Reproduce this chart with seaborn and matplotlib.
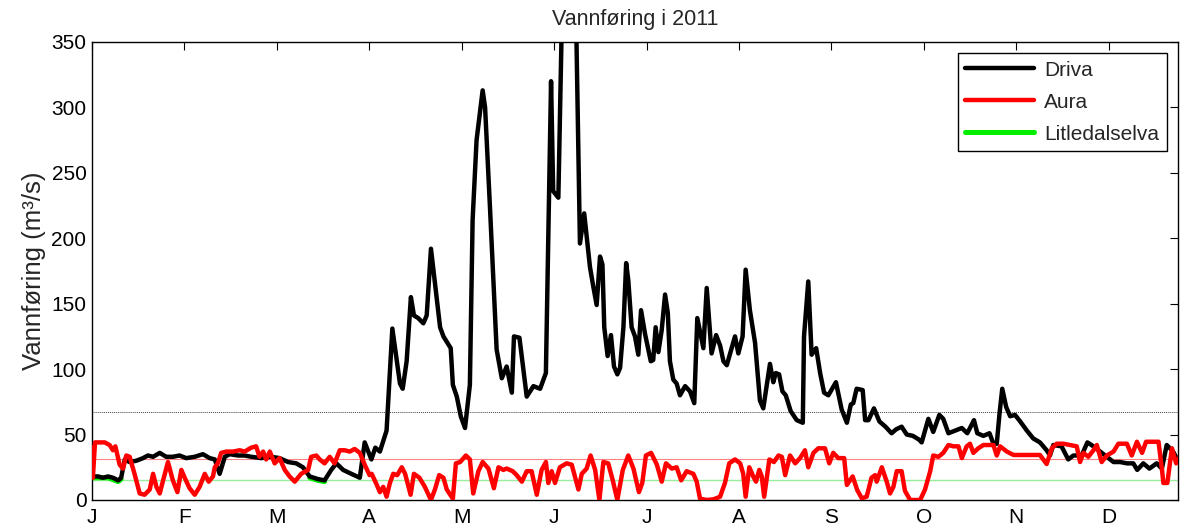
import pandas as pd
import matplotlib
matplotlib.use("Agg")
import matplotlib.pyplot as plt
import seaborn as sns

# daily flow 2011 (day of year from 1 Jan, m3/s)
driva_day = [0, 2.0, 3.6, 5.3, 6.9, 8.6, 9.6, 10.8, 12.4, 14.6, 16.8, 18.4, 20.1, 22.3, 24.4,
             26.6, 28.8, 31.0, 33.8, 36.5, 38.7, 40.4, 42.0, 43.7, 45.3, 48.0, 50.2, 52.4,
             55.7, 59.0, 61.7, 64.5, 67.2, 69.4, 71.6, 74.3, 76.5, 78.7, 80.4, 82.6, 85.3,
             88.1, 89.7, 91.9, 93.2, 94.7, 96.9, 98.8, 101.3, 102.2, 103.5, 104.9, 105.9,
             107.3, 109.0, 110.1, 111.5, 114.5, 115.6, 118.0, 118.7, 120.0, 121.3, 122.7,
             124.3, 125.2, 126.5, 128.5, 129.3, 130.9, 133.1, 134.8, 136.4, 138.1, 138.8,
             140.6, 143.0, 145.2, 147.4, 149.3, 151.0, 151.7, 153.4, 155.0, 157.0, 159.0,
             160.5, 161.9, 163.8, 164.9, 166.0, 167.1, 167.9, 168.5, 169.6, 170.7, 171.7,
             172.8, 173.7, 174.8, 175.7, 176.4, 177.5, 178.6, 179.7, 180.6, 181.9, 183.8,
             184.6, 185.4, 186.3, 187.4, 188.5, 189.4, 190.1, 191.2, 192.3, 193.4, 195.1,
             196.7, 198.1, 199.1, 201.1, 202.2, 203.8, 205.3, 206.6, 207.7, 208.8, 211.5,
             212.6, 214.0, 215.0, 216.4, 218.1, 219.7, 220.8, 223.0, 224.1, 224.9, 226.0,
             227.1, 228.2, 229.8, 231.8, 233.8, 234.2, 235.6, 236.7, 238.2, 239.5, 240.8,
             242.2, 244.7, 246.6, 248.3, 249.6, 250.4, 251.5, 253.5, 254.3, 255.4, 257.2,
             259.0, 261.0, 263.0, 264.5, 266.3, 268.0, 270.0, 272.1, 272.9, 275.1, 276.7,
             278.7, 280.0, 281.7, 283.9, 286.1, 287.9, 290.1, 291.2, 293.2, 295.2, 296.5,
             297.6, 298.5, 299.4, 300.7, 302.0, 303.6, 305.3, 307.5, 309.6, 311.8, 314.0,
             315.1, 316.2, 318.9, 321.1, 322.8, 325.5, 327.4, 329.4, 331.6, 333.8, 336.0,
             338.2, 340.4, 342.5, 343.8, 345.8, 347.8, 350.2, 351.9, 353.5, 355.6, 357.2]
driva_flow = [18, 18, 17, 18, 17, 15, 17, 31, 29, 30, 32, 34, 33, 36, 33,
              33, 34, 32, 33, 35, 32, 31, 20, 33, 35, 34, 34, 33,
              32, 33, 32, 29, 28, 25, 18, 16, 15, 23, 28, 23, 20,
              17, 44, 31, 40, 37, 53, 131, 89, 85, 106, 155, 141,
              139, 135, 141, 192, 132, 125, 116, 88, 79, 64, 55,
              88, 214, 275, 313, 300, 224, 115, 93, 102, 82, 125,
              124, 79, 87, 85, 97, 320, 236, 231, 420, 470, 400,
              196, 219, 178, 163, 149, 186, 180, 132, 110, 126, 102,
              96, 101, 132, 181, 168, 132, 125, 111, 145, 127, 106,
              107, 132, 113, 130, 157, 143, 106, 92, 89, 80, 87,
              83, 74, 139, 116, 162, 112, 126, 118, 106, 103, 125,
              112, 125, 176, 145, 120, 76, 70, 104, 90, 97, 96,
              83, 80, 68, 61, 59, 125, 167, 111, 116, 97, 82,
              80, 90, 69, 59, 73, 74, 85, 84, 61, 61, 70,
              60, 56, 51, 54, 56, 50, 49, 46, 44, 62, 52,
              65, 62, 51, 53, 55, 51, 61, 51, 49, 51, 43,
              43, 66, 85, 71, 64, 65, 60, 53, 47, 44, 38,
              34, 42, 41, 31, 34, 34, 44, 41, 37, 33, 29,
              29, 28, 28, 23, 28, 24, 28, 24, 42, 37, 30]

aura_day = [0, 0.3, 1.0, 2.0, 4.2, 5.8, 6.9, 7.7, 9.1, 10.2, 11.3, 12.4, 14.0, 15.7, 17.3,
            19.0, 20.1, 21.2, 22.3, 23.4, 25.0, 26.6, 28.1, 29.4, 30.5, 32.1, 33.8, 35.4,
            37.1, 38.4, 39.8, 40.4, 41.4, 42.5, 44.2, 46.4, 48.6, 50.2, 52.4, 54.0, 55.1,
            56.3, 57.3, 58.5, 60.1, 61.7, 63.4, 65.0, 66.7, 68.8, 71.1, 72.1, 73.8, 74.9,
            76.5, 78.2, 79.8, 81.5, 83.1, 84.8, 86.4, 88.1, 89.7, 91.3, 92.0, 93.6, 94.7,
            95.8, 96.9, 98.0, 99.1, 100.4, 101.9, 103.0, 104.8, 105.9, 107.7, 109.5, 111.5,
            112.8, 114.2, 115.6, 116.7, 118.7, 119.7, 121.1, 123.0, 124.3, 125.4, 127.1,
            128.5, 130.4, 132.2, 133.7, 135.3, 136.4, 138.4, 139.7, 141.4, 143.0, 144.6,
            146.3, 147.9, 149.3, 150.1, 151.2, 152.3, 153.9, 156.1, 157.8, 160.0, 161.1,
            162.7, 164.0, 165.5, 166.9, 168.2, 169.8, 171.3, 172.8, 174.6, 176.4, 178.1,
            179.9, 181.0, 182.2, 183.9, 185.8, 187.4, 188.8, 190.7, 192.3, 193.8, 195.6,
            197.8, 198.9, 200.0, 202.2, 204.4, 206.6, 208.2, 209.6, 211.5, 213.2, 214.2,
            215.0, 216.2, 217.5, 218.4, 219.5, 220.3, 221.1, 222.8, 224.3, 225.8, 226.9,
            228.0, 229.6, 231.3, 232.9, 234.5, 235.6, 237.3, 238.9, 241.1, 242.5, 243.8,
            245.5, 247.4, 248.3, 250.2, 251.7, 253.2, 254.8, 256.4, 257.6, 258.1, 259.8,
            261.4, 262.5, 263.6, 264.7, 266.3, 267.4, 269.1, 272.4, 274.0, 275.7, 276.7,
            278.4, 280.0, 281.7, 283.3, 285.0, 286.1, 287.7, 288.8, 289.9, 291.5, 293.2,
            296.5, 297.6, 298.7, 300.9, 303.1, 311.8, 312.9, 314.0, 315.7, 317.3, 319.5,
            323.9, 325.0, 326.1, 327.7, 329.4, 330.5, 332.1, 333.8, 336.0, 337.6, 340.4,
            342.0, 343.7, 345.4, 346.7, 350.8, 351.9, 352.4, 353.7, 355.2, 356.6, 357.9]
aura_flow = [40, 17, 44, 44, 44, 42, 38, 41, 27, 24, 34, 33, 20, 5, 4,
             8, 20, 10, 5, 15, 29, 15, 6, 23, 17, 9, 4, 10,
             20, 14, 18, 25, 28, 36, 37, 37, 38, 37, 40, 41, 33,
             37, 31, 37, 28, 32, 23, 18, 14, 20, 23, 33, 34, 31,
             28, 33, 28, 38, 38, 37, 39, 36, 27, 19, 20, 12, 6,
             10, 2.5, 13, 20, 19, 25, 20, 4, 20, 17, 10, 0,
             8, 19, 17, 8, 1, 28, 29, 34, 31, 5, 22,
             29, 24, 9, 25, 23, 24, 22, 19, 14, 22, 22,
             4, 23, 29, 13, 22, 13, 25, 28, 27, 8, 20,
             24, 34, 23, 0, 29, 28, 15, 0, 23, 34, 24,
             6, 13, 34, 36, 27, 14, 28, 24, 25, 15, 22,
             20, 14, 1, 0, 0.5, 2.5, 13, 28, 31, 28, 20,
             2.5, 25, 18, 14, 23, 18, 2.5, 31, 29, 34, 33,
             19, 34, 28, 32, 38, 25, 36, 39.5, 39.5, 28, 36,
             32, 32, 11.5, 18, 7.6, 1.3, 2.5, 17, 19, 14, 25,
             14, 5, 10, 22, 22, 7, 0, 0, 8, 22, 34,
             33, 36, 42, 41, 41, 32, 41, 43, 36, 39.5, 42,
             42, 34, 41, 37, 34.4, 34.4, 31, 27.5, 39.5, 43, 43,
             41, 29, 36, 33, 38, 42, 29, 34, 37, 43, 43,
             34, 44.5, 36, 44.5, 44.5, 24, 13, 13, 39.5, 28, 33]

# Litledalselva only shows where it runs just under Driva
litle_day = [[0, 2.0, 5.3, 8.6, 9.6], [71.6, 74.3, 76.5]]
litle_flow = [[17, 17, 17, 14, 16], [17, 15, 14]]

# yearly means drawn as thin horizontal lines
mean_driva = 67
mean_aura = 31
mean_litle = 15

month_labels = ['J', 'F', 'M', 'A', 'M', 'J', 'J', 'A', 'S', 'O', 'N', 'D']
month_len = 30.4

sns.set_theme(style="white")
plt.rcParams['font.family'] = ['Liberation Sans', 'DejaVu Sans']

fig = plt.figure(figsize=(11.82, 5.31), dpi=100)
ax = fig.add_axes([0.0778, 0.0584, 0.9188, 0.8626])

ax.axhline(mean_driva, color='#444444', lw=0.7, ls=(0, (1, 1)), zorder=1)
ax.axhline(mean_aura, color='#ff8080', lw=0.8, zorder=1)
ax.axhline(mean_litle, color='#99ee99', lw=1.0, zorder=1)

for i in range(len(litle_day)):
    seg = pd.DataFrame({'day': litle_day[i], 'flow': litle_flow[i]})
    sns.lineplot(data=seg, x='day', y='flow', ax=ax, color='#00ee00', lw=3.6,
                 label='Litledalselva' if i == 0 else None, legend=False, zorder=2)

df_d = pd.DataFrame({'day': driva_day, 'flow': driva_flow})
df_a = pd.DataFrame({'day': aura_day, 'flow': aura_flow})
sns.lineplot(data=df_d, x='day', y='flow', ax=ax, color='black', lw=3.2,
             label='Driva', legend=False, zorder=3)
sns.lineplot(data=df_a, x='day', y='flow', ax=ax, color='#ff0000', lw=3.2,
             label='Aura', legend=False, zorder=4)

ax.set_xlim(0, 357.2)
ax.set_ylim(0, 350)
ax.set_xticks([k * month_len for k in range(12)])
ax.set_xticklabels(month_labels)
ax.set_yticks(range(0, 351, 50))
ax.tick_params(axis='both', direction='in', length=6, width=0.8, top=True, right=True,
               labelsize=15, colors='black', pad=4)
ax.tick_params(axis='x', pad=6)
for s in ax.spines.values():
    s.set_color('black')
    s.set_linewidth(1.0)

ax.set_title('Vannføring i 2011', fontsize=15.5, pad=12)
ax.set_xlabel('')
ax.set_ylabel('Vannføring (m³/s)', fontsize=18.5, labelpad=4)

handles, labels = ax.get_legend_handles_labels()
order = [labels.index(n) for n in ['Driva', 'Aura', 'Litledalselva']]
leg = ax.legend([handles[i] for i in order], [labels[i] for i in order],
                loc='upper right', fontsize=15, frameon=True, fancybox=False,
                edgecolor='black', framealpha=1, borderaxespad=0.55,
                handlelength=3.3, handletextpad=0.5, labelspacing=0.62,
                borderpad=0.35)
leg.get_frame().set_linewidth(1.0)

fig.savefig('out.png', dpi=100)
